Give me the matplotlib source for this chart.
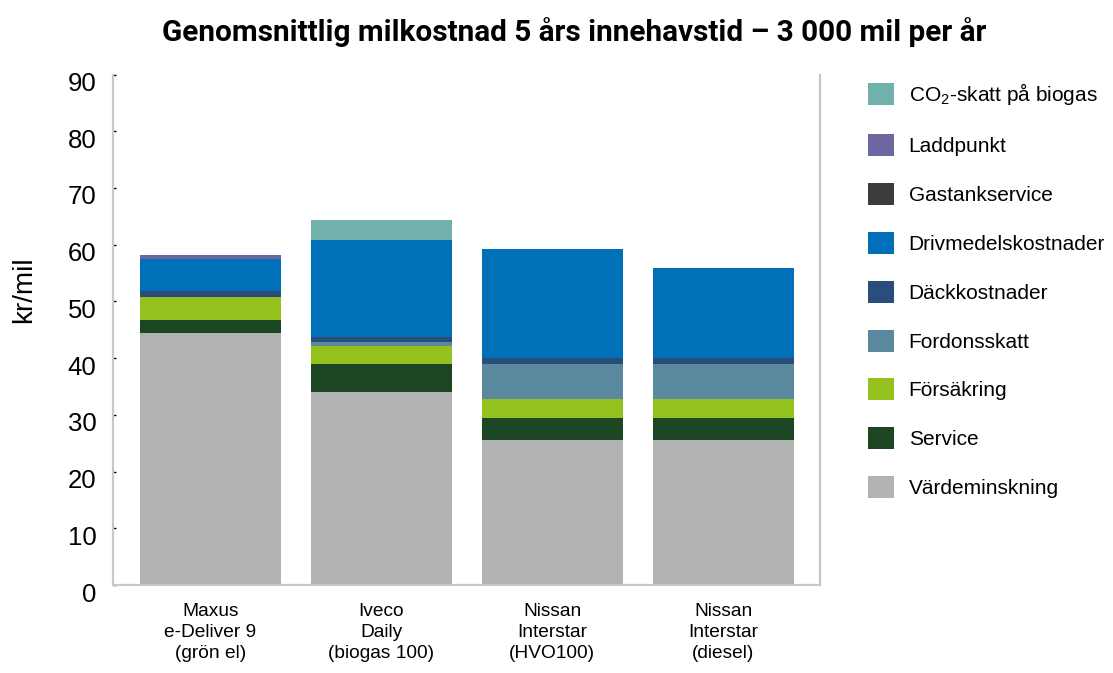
import matplotlib
matplotlib.use("Agg")
import matplotlib.pyplot as plt
import matplotlib.transforms as mtransforms
import numpy as np

plt.rcParams['font.family'] = ['Liberation Sans', 'DejaVu Sans']
plt.rcParams['mathtext.default'] = 'regular'

# data (kr/mil)
vehicles = ['Maxus\ne-Deliver 9\n(grön el)', 'Iveco\nDaily\n(biogas 100)',
            'Nissan\nInterstar\n(HVO100)', 'Nissan\nInterstar\n(diesel)']

vardeminskning = [44.4, 34.0, 25.5, 25.5]
service = [2.3, 4.9, 3.9, 3.9]
forsakring = [4.05, 3.2, 3.35, 3.35]
fordonsskatt = [0.0, 0.7, 6.15, 6.15]
dackkostnader = [1.0, 0.95, 1.05, 1.05]
drivmedel = [5.7, 17.15, 19.35, 15.85]
gastankservice = [0.0, 0.0, 0.0, 0.0]
laddpunkt = [0.7, 0.0, 0.0, 0.0]
co2_skatt = [0.0, 3.4, 0.0, 0.0]

series = [
    ('Värdeminskning', vardeminskning, '#b2b2b2'),
    ('Service', service, '#1c4722'),
    ('Försäkring', forsakring, '#95c11f'),
    ('Fordonsskatt', fordonsskatt, '#5a889e'),
    ('Däckkostnader', dackkostnader, '#2b4d7c'),
    ('Drivmedelskostnader', drivmedel, '#0070b9'),
    ('Gastankservice', gastankservice, '#3c3c3b'),
    ('Laddpunkt', laddpunkt, '#6c66a3'),
    ('CO$_{2}$-skatt på biogas', co2_skatt, '#70b2ab'),
]

fig = plt.figure(figsize=(11.13, 6.73), dpi=100)
ax = fig.add_axes([113/1113, 1-585/673, (820-113)/1113, (585-74.5)/673])

x = np.arange(len(vehicles))
bottom = np.zeros(len(vehicles))
handles = []
for name, vals, col in series:
    b = ax.bar(x, vals, 0.825, bottom=bottom, color=col, label=name, linewidth=0)
    handles.append(b)
    bottom += np.array(vals)

ax.set_xlim(-0.57, 3.565)
ax.set_ylim(0, 90)
ax.set_yticks(np.arange(0, 91, 10))
ax.set_xticks(x)
ax.set_xticklabels(vehicles, fontsize=13.8, linespacing=1.3)
ax.tick_params(axis='x', length=0, pad=13)
ax.tick_params(axis='y', direction='in', length=2, width=1, color='black',
               labelsize=18.5, pad=12)
for lab in ax.get_yticklabels():
    lab.set_transform(lab.get_transform() +
                      mtransforms.ScaledTranslation(0, -7/100, fig.dpi_scale_trans))

for s in ['left', 'right', 'bottom']:
    ax.spines[s].set_color('#c8c8c8')
    ax.spines[s].set_linewidth(1.6)
ax.spines['top'].set_visible(False)

fig.text(24/1113, 1-290/673, 'kr/mil', rotation=90, fontsize=20,
         ha='center', va='center')

fig.text(574/1113, 1-32/673,
         'Genomsnittlig milkostnad 5 års innehavstid – 3 000 mil per år',
         fontsize=21.4, fontweight='bold', family=['Roboto', 'DejaVu Sans'],
         ha='center', va='center')

leg = fig.legend(handles[::-1], [s[0] for s in series][::-1],
                 loc='upper left', bbox_to_anchor=(868/1113, 1-81/673),
                 frameon=False, fontsize=15, handlelength=1.25, handleheight=1.25,
                 labelspacing=1.29, handletextpad=0.7, borderpad=0, borderaxespad=0)

fig.savefig('out.png', dpi=100)
